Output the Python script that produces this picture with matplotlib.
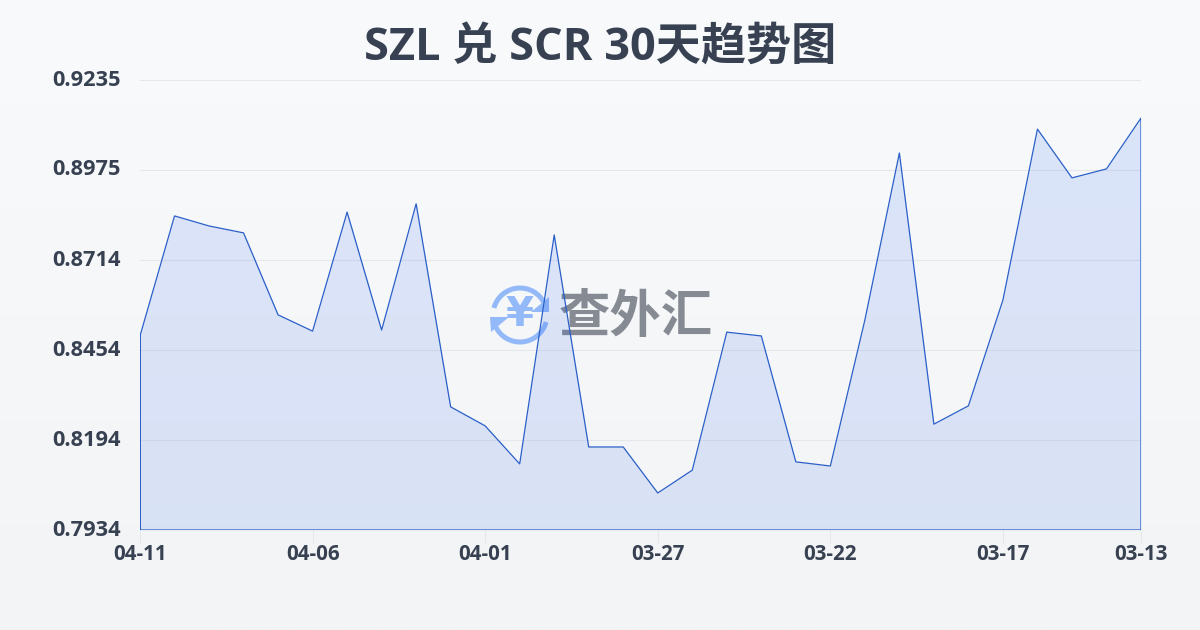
import matplotlib
matplotlib.use("Agg")
import matplotlib.pyplot as plt
import numpy as np
from matplotlib.patches import Arc, Polygon

plt.rcParams["font.family"] = ["Open Sans", "Noto Sans CJK SC", "DejaVu Sans"]

TITLE = "SZL 兑 SCR 30天趋势图"
WATERMARK = "查外汇"

# newest first, the axis runs backwards in time
DATES = ["04-11", "04-10", "04-09", "04-08", "04-07", "04-06", "04-05", "04-04", "04-03", "04-02",
         "04-01", "03-31", "03-30", "03-29", "03-28", "03-27", "03-26", "03-25", "03-24", "03-23",
         "03-22", "03-21", "03-20", "03-19", "03-18", "03-17", "03-16", "03-15", "03-14", "03-13"]
RATES = [0.8495, 0.8842, 0.8813, 0.8793, 0.8556, 0.8509, 0.8853, 0.8512, 0.8877, 0.8290,
         0.8235, 0.8125, 0.8787, 0.8174, 0.8174, 0.8041, 0.8107, 0.8506, 0.8495, 0.8131,
         0.8119, 0.8541, 0.9024, 0.8240, 0.8293, 0.8599, 0.9093, 0.8952, 0.8978, 0.9125]
Y_TICKS = [0.7934, 0.8194, 0.8454, 0.8714, 0.8975, 0.9235]

TEXT_COLOR = "#374151"
LINE_COLOR = "#2a5fc9"
FILL_COLOR = "#2563eb"
GRID_COLOR = "#e5e7eb"
LOGO_COLOR = "#93b9f8"
WIDTH, HEIGHT = 1200, 630


def draw_background(fig):
    bg = fig.add_axes([0, 0, 1, 1], zorder=0)
    top = np.array([248, 250, 252]) / 255
    bottom = np.array([243, 244, 246]) / 255
    steps = np.linspace(0, 1, 256)[:, None, None]
    bg.imshow(top + (bottom - top) * steps, aspect="auto", extent=[0, 1, 0, 1])
    bg.axis("off")


def draw_watermark(fig):
    # overlay in pixel coordinates, y flipped like the picture
    logo = fig.add_axes([0, 0, 1, 1], zorder=1)
    logo.set_xlim(0, WIDTH)
    logo.set_ylim(HEIGHT, 0)
    logo.axis("off")
    cx, cy, size = 520, 315, 54
    logo.add_patch(Arc((cx, cy), size, size, theta1=195, theta2=335, color=LOGO_COLOR, lw=3.6))
    logo.add_patch(Arc((cx, cy), size, size, theta1=15, theta2=155, color=LOGO_COLOR, lw=3.6))
    logo.add_patch(Polygon([[490, 317], [509, 317], [491, 332]], color=LOGO_COLOR, lw=0))
    logo.add_patch(Polygon([[549, 297], [549, 312], [531, 312]], color=LOGO_COLOR, lw=0))
    logo.text(cx, cy, "¥", color=LOGO_COLOR, fontsize=29, fontweight="bold",
              ha="center", va="center", family=["DejaVu Sans"])
    logo.text(636, 319, WATERMARK, color="#858a93", fontsize=37, fontweight="bold",
              ha="center", va="center")


def main():
    fig = plt.figure(figsize=(12, 6.3), dpi=100)
    draw_background(fig)
    draw_watermark(fig)

    ax = fig.add_axes([140 / WIDTH, 1 - 530 / HEIGHT, 1001 / WIDTH, 450 / HEIGHT], zorder=2)
    ax.patch.set_alpha(0)

    x = np.arange(len(RATES))
    ax.fill_between(x, RATES, Y_TICKS[0], color=FILL_COLOR, alpha=0.13, lw=0, zorder=2)
    ax.plot(np.r_[x[0], x, x[-1], x[0], x[0]],
            np.r_[Y_TICKS[0], RATES, Y_TICKS[0], Y_TICKS[0], RATES[0]],
            color=LINE_COLOR, lw=0.9, zorder=3)

    ax.set_xlim(0, len(RATES) - 1)
    ax.set_ylim(Y_TICKS[0], Y_TICKS[-1])
    ax.set_yticks(Y_TICKS)
    ax.set_yticklabels([f"{v:.4f}" for v in Y_TICKS])
    ax.set_xticks(x[::5].tolist() + [x[-1]])
    ax.set_xticklabels(DATES[::5] + [DATES[-1]])
    ax.grid(axis="y", color=GRID_COLOR, lw=0.8, zorder=1)
    ax.set_axisbelow(True)
    for spine in ax.spines.values():
        spine.set_visible(False)

    ax.tick_params(axis="y", length=0, pad=14, labelsize=15.7, labelcolor=TEXT_COLOR)
    ax.tick_params(axis="x", length=9, width=0.8, color=GRID_COLOR, pad=1,
                   labelsize=14.8, labelcolor=TEXT_COLOR)
    for label in ax.get_xticklabels() + ax.get_yticklabels():
        label.set_fontweight("bold")
    for label in ax.get_yticklabels():
        label.set_verticalalignment("center")

    fig.text(0.5, 1 - 48 / HEIGHT, TITLE, color=TEXT_COLOR, fontsize=32.5, fontweight="bold",
             ha="center", va="center", zorder=3)

    fig.savefig("out.png", dpi=100)
    plt.close(fig)


if __name__ == "__main__":
    main()
